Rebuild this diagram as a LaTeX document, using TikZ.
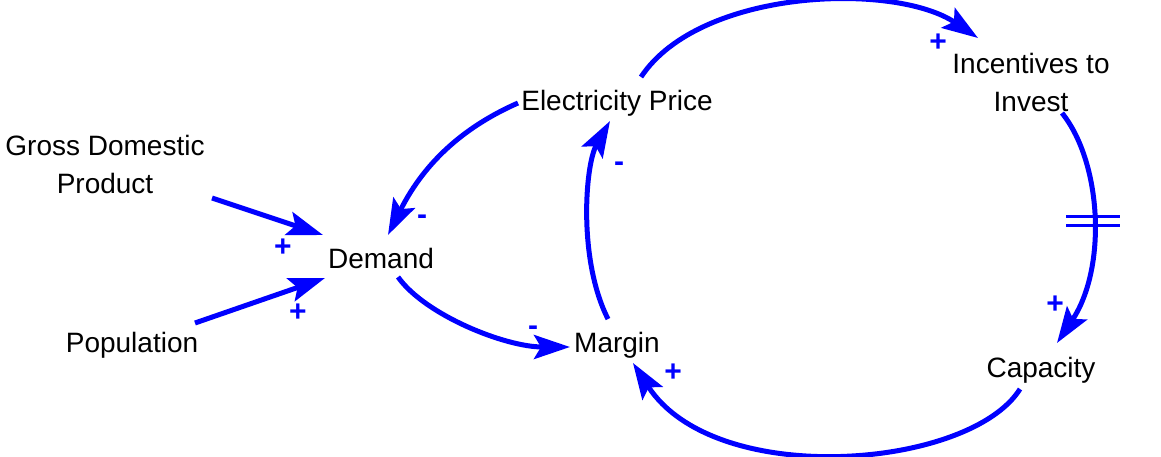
\documentclass[tikz,border=0pt]{standalone}
\usepackage{fontspec}
\setmainfont{Liberation Sans}
\usetikzlibrary{arrows.meta,decorations.markings}
\definecolor{cldblue}{RGB}{0,0,255}
\begin{document}
\begin{tikzpicture}[x=1pt,y=-1pt,
  var/.style={font=\fontsize{28}{38}\selectfont, text=black, inner sep=0pt, outer sep=0pt},
  link/.style={draw=cldblue, line width=5pt, -{Stealth[length=36pt,width=24pt,inset=7pt]}},
  pol/.style={font=\fontsize{30}{30}\selectfont\bfseries, text=cldblue, inner sep=0pt},
  delayline/.style={draw=cldblue, line width=3.5pt},
  delaypoint/.style={postaction={decorate}, decoration={markings, mark=at position 0.47 with {\coordinate (dm);}}}
]
\useasboundingbox (0,0) rectangle (1161,456);
% variables
\node[var, anchor=north, align=center] (gdp) at (105,135) {Gross Domestic\\Product};
\node[var, anchor=base] (pop) at (132,352) {Population};
\node[var, anchor=base] (dem) at (381,268) {Demand};
\node[var, anchor=base] (ep) at (617,110) {Electricity Price};
\node[var, anchor=north, align=center] (inc) at (1031,53) {Incentives to\\Invest};
\node[var, anchor=base] (mar) at (617,352) {Margin};
\node[var, anchor=base] (cap) at (1041,377) {Capacity};
% links
\draw[link] ([shift={(107,63)}]gdp.north) -- ([shift={(-58,-33)}]dem.base);
\draw[link] ([shift={(63,-29)}]pop.base) -- ([shift={(-56,10)}]dem.base);
\draw[link] ([shift={(-99,-7)}]ep.base) .. controls +(-50,22) and +(38,-76) .. ([shift={(7,-33)}]dem.base);
\draw[link] ([shift={(17,9)}]dem.base) .. controls +(27,38) and +(-65,0) .. ([shift={(-47,-5)}]mar.base);
\draw[link] ([shift={(-9,-33)}]mar.base) .. controls +(-30,-59) and +(-25,44) .. ([shift={(-7,11)}]ep.base);
\draw[link] ([shift={(24,-33)}]ep.base) .. controls +(59,-89) and +(-83,-56) .. ([shift={(-53,-15)}]inc.north);
\draw[link, delaypoint] ([shift={(31,60)}]inc.north) .. controls +(40,50) and +(50,-75) .. ([shift={(16,-34)}]cap.base);
\draw[link] ([shift={(-21,12)}]cap.base) .. controls +(-50,80) and +(82,127) .. ([shift={(16,11)}]mar.base);
% delay mark
\draw[delayline] ([shift={(-27,-4.5)}]dm) -- ([shift={(27,-4.5)}]dm);
\draw[delayline] ([shift={(-27,4.5)}]dm) -- ([shift={(27,4.5)}]dm);
% polarities
\node[pol] (p1) at (283,248) {+};
\node[pol] (p2) at (298,313) {+};
\node[pol] (p3) at (422,220) {-};
\node[pol] (p4) at (533,331) {-};
\node[pol] (p5) at (619,167) {-};
\node[pol] (p6) at (938,43) {+};
\node[pol] (p7) at (1055,305) {+};
\node[pol] (p8) at (673,373) {+};
\end{tikzpicture}
\end{document}
